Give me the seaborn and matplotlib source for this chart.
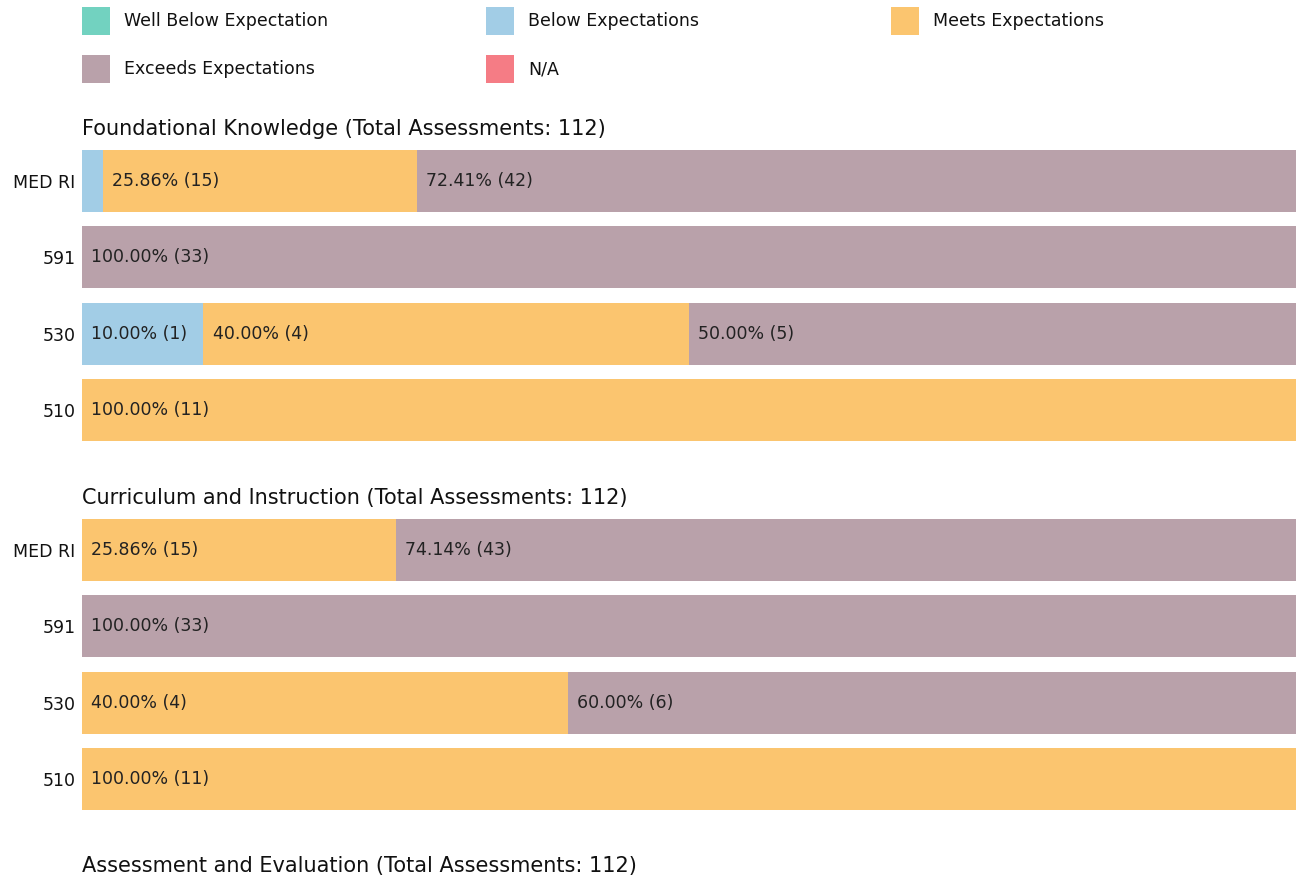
import matplotlib
matplotlib.use("Agg")
import matplotlib.pyplot as plt
import seaborn as sns
import pandas as pd
import numpy as np
from matplotlib.patches import Rectangle

sns.set_theme(style="white")
plt.rcParams['font.family'] = 'sans-serif'
plt.rcParams['font.sans-serif'] = ['DejaVu Sans']

categories = ["Well Below Expectation", "Below Expectations", "Meets Expectations",
              "Exceeds Expectations", "N/A"]
colors = ["#72D2C0", "#A2CDE6", "#FBC56F", "#B9A1AA", "#F57C85"]
courses = ["MED RI", "591", "530", "510"]

panel_titles = ["Foundational Knowledge (Total Assessments: 112)",
                "Curriculum and Instruction (Total Assessments: 112)",
                "Assessment and Evaluation (Total Assessments: 112)"]

# counts per course, order: WB, BE, ME, EE, NA
fk_med = [0, 1, 15, 42, 0]
fk_591 = [0, 0, 0, 33, 0]
fk_530 = [0, 1, 4, 5, 0]
fk_510 = [0, 0, 11, 0, 0]

ci_med = [0, 0, 15, 43, 0]
ci_591 = [0, 0, 0, 33, 0]
ci_530 = [0, 0, 4, 6, 0]
ci_510 = [0, 0, 11, 0, 0]

ae_med = [0, 0, 15, 43, 0]
ae_591 = [0, 0, 0, 33, 0]
ae_530 = [0, 0, 4, 6, 0]
ae_510 = [0, 0, 11, 0, 0]

panels = [[fk_med, fk_591, fk_530, fk_510],
          [ci_med, ci_591, ci_530, ci_510],
          [ae_med, ae_591, ae_530, ae_510]]

W, H = 1296, 881
fig = plt.figure(figsize=(W / 100, H / 100), dpi=100)

left_px = 82
right_px = 1296
tops = [150, 519, 887]
height_px = 291
fs = 12.5

for p, (title, rows) in enumerate(zip(panel_titles, panels)):
    ax = fig.add_axes([left_px / W, 1 - (tops[p] + height_px) / H,
                       (right_px - left_px) / W, height_px / H])
    counts = np.array(rows, dtype=float)
    totals = counts.sum(axis=1)
    pct = counts / totals[:, None] * 100
    cum = np.cumsum(pct, axis=1)
    for k in range(len(categories) - 1, -1, -1):
        df = pd.DataFrame({"course": courses, "val": cum[:, k]})
        sns.barplot(data=df, x="val", y="course", orient="h", color=colors[k],
                    saturation=1, width=0.81, ax=ax, order=courses, linewidth=0)
    for i in range(len(courses)):
        start = 0.0
        for k in range(len(categories)):
            v = pct[i, k]
            if v >= 5:
                ax.text(start + 0.75, i, f"{v:.2f}% ({int(counts[i, k])})",
                        va="center", ha="left", fontsize=fs, color="#222222")
            start += v
    ax.set_xlim(0, 100)
    ax.set_ylim(3.405, -0.405)
    ax.set_xlabel("")
    ax.set_ylabel("")
    ax.set_xticks([])
    ax.tick_params(axis="y", length=0, pad=4.7, labelsize=fs, labelcolor="#111111")
    for s in ax.spines.values():
        s.set_visible(False)
    ax.set_title(title, loc="left", fontsize=15, pad=11, color="#111111")

# legend laid out row-wise in three columns
leg_cols_px = [82, 486, 891]
leg_rows_px = [21, 69]
box = 28
for idx, (lab, col) in enumerate(zip(categories, colors)):
    r, c = divmod(idx, 3)
    x0 = leg_cols_px[c]
    yc = leg_rows_px[r]
    fig.add_artist(Rectangle((x0 / W, 1 - (yc + box / 2) / H), box / W, box / H,
                             transform=fig.transFigure, facecolor=col,
                             edgecolor="none"))
    fig.text((x0 + box + 14) / W, 1 - yc / H, lab, va="center", ha="left",
             fontsize=fs, color="#111111")

fig.savefig("out.png", dpi=100)
